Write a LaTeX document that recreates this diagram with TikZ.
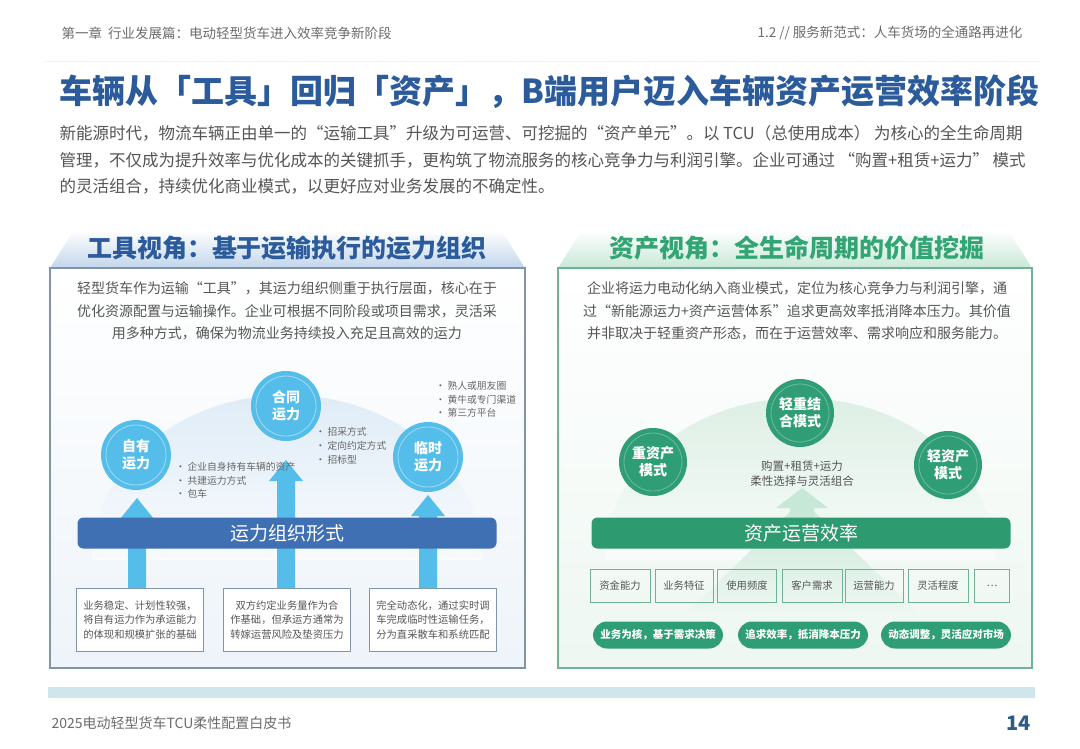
\documentclass[tikz,border=0pt]{standalone}
\usepackage{fontspec}
\setmainfont{Noto Sans CJK SC}
\usetikzlibrary{positioning}
\definecolor{titleblue}{HTML}{2B5B9B}
\definecolor{skyb}{HTML}{55BDEA}
\definecolor{barb}{HTML}{3E70B3}
\definecolor{boxb}{HTML}{8194AA}
\definecolor{lpan}{HTML}{EEF4FA}
\definecolor{ltrap}{HTML}{C3D6EC}
\definecolor{ldome}{HTML}{DFECF7}
\definecolor{titlegreen}{HTML}{33A474}
\definecolor{leafg}{HTML}{2F9E76}
\definecolor{barg}{HTML}{2E9A70}
\definecolor{boxg}{HTML}{6DB394}
\definecolor{gpan}{HTML}{EEF7F2}
\definecolor{gtrap}{HTML}{C8E8D7}
\definecolor{gdome}{HTML}{DDEFE5}
\definecolor{band}{HTML}{CFE7EC}
\definecolor{pagenum}{HTML}{2F5C86}
\definecolor{txt}{HTML}{555555}
\newcommand{\fsz}[2]{\fontsize{#1}{#2}\selectfont}

\begin{document}
\begin{tikzpicture}[x=1pt,y=-1pt,
  hdr/.style={text=gray!85!black,font=\fsz{13.5}{16}},
  circb/.style={circle,fill=skyb,minimum size=70pt,inner sep=0pt,text=white,align=center,font=\bfseries\fsz{14}{17}},
  circg/.style={circb,fill=leafg,minimum size=68pt},
  bul/.style={anchor=west,text=gray!80!black,font=\fsz{9.8}{12}},
  lbox/.style={draw=boxb,line width=1pt,fill=white,minimum width=127pt,minimum height=63pt,align=center,text=txt,font=\fsz{10.3}{14.5}},
  gbox/.style={draw=boxg,line width=1pt,minimum height=33pt,inner sep=1pt,text=txt,font=\fsz{10.3}{13}},
  pill/.style={rounded corners=14pt,fill=leafg,minimum width=130pt,minimum height=27pt,text=white,font=\bfseries\fsz{10.5}{13}},
  bar/.style={rounded corners=6pt,minimum width=419pt,minimum height=31pt,text=white,font=\fsz{19}{22}},
  ptext/.style={align=center,text=txt,font=\fsz{14}{22.5}}]
  \useasboundingbox (0,0) rectangle (1080,748);
  \fill[white] (0,0) rectangle (1080,748);
  % Header
  \node[hdr,anchor=west] (chap) at (58,33) {第一章\ \ 行业发展篇：电动轻型货车进入效率竞争新阶段};
  \node[hdr,anchor=east] (sect) at (1026,33) {1.2 // 服务新范式：人车货场的全通路再进化};
  \draw[ldome!60,line width=1pt] (45,61) -- (1040,61);
  \node[anchor=west,text=titleblue,font=\bfseries\fsz{33}{38}] (ttl) at (56,92) {车辆从「工具」回归「资产」，B端用户迈入车辆资产运营效率阶段};
  \node[anchor=west,text=txt,font=\fsz{16.5}{20}] (par1) at (56,133) {新能源时代，物流车辆正由单一的“运输工具”升级为可运营、可挖掘的“资产单元”。以 TCU（总使用成本） 为核心的全生命周期};
  \node[anchor=west,text=txt,font=\fsz{16.5}{20}] (par2) at (56,160) {管理，不仅成为提升效率与优化成本的关键抓手，更构筑了物流服务的核心竞争力与利润引擎。企业可通过 “购置+租赁+运力” 模式};
  \node[anchor=west,text=txt,font=\fsz{16.5}{20}] (par3) at (56,186) {的灵活组合，持续优化商业模式，以更好应对业务发展的不确定性。};
  % Tool view
  \fill[top color=white,bottom color=lpan] (50,268) rectangle (525,668);
  \shade[top color=white,bottom color=ltrap] (74,230) -- (501,230) -- (525,268) -- (50,268) -- cycle;
  \draw[boxb,line width=1.2pt] (50,268) rectangle (525,668);
  \node[text=titleblue,font=\bfseries\fsz{25}{28}] (ltitle) at (287,248) {工具视角：基于运输执行的运力组织};
  \node[ptext] (ltext) at (287,311) {轻型货车作为运输“工具”，其运力组织侧重于执行层面，核心在于\\优化资源配置与运输操作。企业可根据不同阶段或项目需求，灵活采\\用多种方式，确保为物流业务持续投入充足且高效的运力};
  \shade[top color=ldome,bottom color=lpan!40] (92,560) .. controls (92,469) and (179,395) .. (287,395) .. controls (395,395) and (482,469) .. (482,560) -- cycle;
  \node[lbox] (lb1) at (140,620) {业务稳定、计划性较强，\\将自有运力作为承运能力\\的体现和规模扩张的基础};
  \node[lbox] (lb2) at (287,620) {双方约定业务量作为合\\作基础，但承运方通常为\\转嫁运营风险及垫资压力};
  \node[lbox] (lb3) at (433,620) {完全动态化，通过实时调\\车完成临时性运输任务，\\分为直采散车和系统匹配};
  \foreach \x/\t in {137/498,286/460,428/495}
    \fill[skyb] (\x-9,588) -- (\x-9,\t+21) -- (\x-17,\t+21) -- (\x,\t) -- (\x+17,\t+21) -- (\x+9,\t+21) -- (\x+9,588) -- cycle;
  \node[bar,fill=barb] (lbar) at (287,533) {运力组织形式};
  \node[circb] (own) at (136,455) {自有\\运力};
  \node[circb] (contract) at (286,406) {合同\\运力};
  \node[circb] (temp) at (428,457) {临时\\运力};
  \foreach \n in {own,contract,temp} \draw[white,opacity=.45,line width=.8pt] (\n) circle (30pt);
  \foreach \t [count=\i] in {企业自身持有车辆的资产,共建运力方式,包车} \node[bul] (ownb\i) at (172,453.5+13.5*\i) {• \t};
  \foreach \t [count=\i] in {招采方式,定向约定方式,招标型} \node[bul] (conb\i) at (312,418+14*\i) {• \t};
  \foreach \t [count=\i] in {熟人或朋友圈,黄牛或专门渠道,第三方平台} \node[bul] (tmpb\i) at (432,372.5+13.5*\i) {• \t};
  % Asset view
  \fill[top color=white,bottom color=gpan] (558,268) rectangle (1032,668);
  \shade[top color=white,bottom color=gtrap] (582,230) -- (1008,230) -- (1032,268) -- (558,268) -- cycle;
  \draw[boxg,line width=1.2pt] (558,268) rectangle (1032,668);
  \node[text=titlegreen,font=\bfseries\fsz{25}{28}] (rtitle) at (797,248) {资产视角：全生命周期的价值挖掘};
  \node[ptext] (rtext) at (797,311) {企业将运力电动化纳入商业模式，定位为核心竞争力与利润引擎，通\\过“新能源运力+资产运营体系”追求更高效率抵消降本压力。其价值\\并非取决于轻重资产形态，而在于运营效率、需求响应和服务能力。};
  \shade[top color=gdome,bottom color=gpan!40] (605,560) .. controls (605,469) and (692,398) .. (800,398) .. controls (908,398) and (995,469) .. (995,560) -- cycle;
  \shade[top color=gtrap,bottom color=gpan] (688,612) -- (917,612) -- (802,500) -- cycle;
  \fill[gtrap] (790,520) -- (790,508) -- (776,508) -- (802,488) -- (828,508) -- (814,508) -- (814,520) -- cycle;
  \node[bar,fill=barg] (rbar) at (801,533) {资产运营效率};
  \node[circg] (heavy) at (653,462) {重资产\\模式};
  \node[circg] (mixed) at (800,413) {轻重结\\合模式};
  \node[circg] (light) at (948,465) {轻资产\\模式};
  \foreach \n in {heavy,mixed,light} \draw[white,opacity=.3,line width=.8pt] (\n) circle (29pt);
  \node[align=center,text=txt,font=\fsz{11.5}{15}] (flex) at (802,474) {购置+租赁+运力\\柔性选择与灵活组合};
  \foreach \t/\x/\w [count=\i] in {资金能力/620/60,业务特征/684/58,使用频度/747/59,客户需求/812/60,运营能力/874/58,灵活程度/938/60,…/992/35}
    \node[gbox,minimum width=\w pt] (fac\i) at (\x,586) {\t};
  \node[pill] (goal1) at (658,635) {业务为核，基于需求决策};
  \node[pill] (goal2) at (803,635) {追求效率，抵消降本压力};
  \node[pill] (goal3) at (946,635) {动态调整，灵活应对市场};
  % Footer
  \fill[band] (48,687) rectangle (1035,698);
  \node[anchor=west,text=gray!85!black,font=\fsz{14}{16}] (book) at (48,723) {2025电动轻型货车TCU柔性配置白皮书};
  \node[anchor=east,text=pagenum,font=\bfseries\fsz{20}{22}] (page) at (1034,723) {14};
\end{tikzpicture}
\end{document}
